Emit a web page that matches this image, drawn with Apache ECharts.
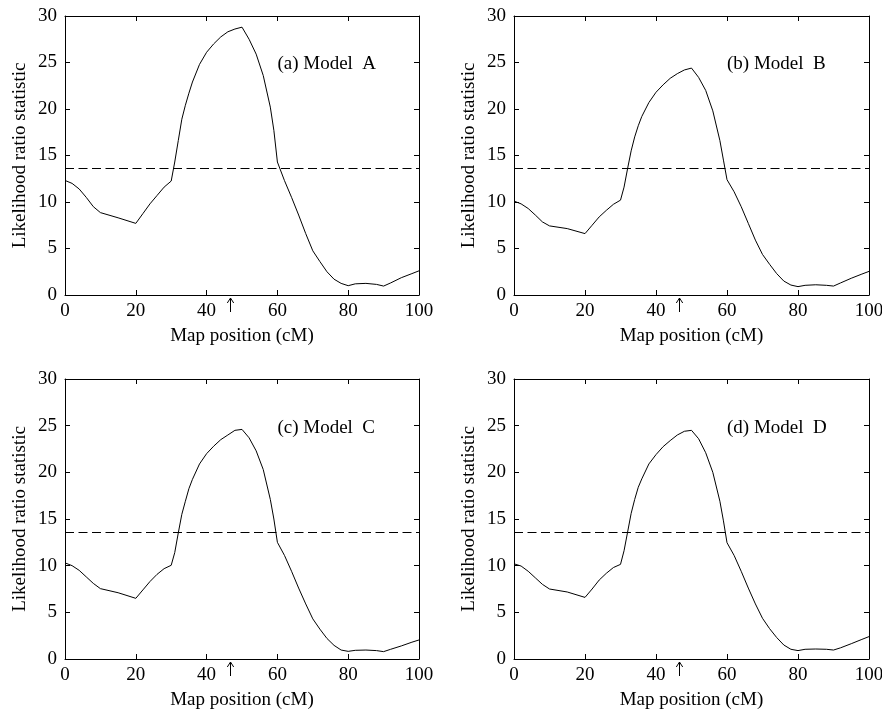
<!DOCTYPE html>
<html>
<head>
<meta charset="utf-8">
<title>Likelihood ratio profiles</title>
<script src="https://cdn.jsdelivr.net/npm/echarts@6/dist/echarts.min.js"></script>
<style>
  html, body { margin: 0; padding: 0; background: #fff; }
  #chart { width: 882px; height: 710px; }
</style>
</head>
<body>
<div id="chart"></div>
<script>
// Map positions (cM) at which the likelihood ratio statistic is evaluated
const positions = [0, 2, 4, 6, 8, 10, 15, 20, 22, 24, 26, 28, 30, 31, 32, 33, 34, 35, 36, 38,
  40, 42, 44, 46, 48, 50, 52, 54, 56, 58, 59, 60, 62, 64, 66, 68, 70, 72, 74, 76,
  78, 80, 82, 85, 88, 90, 92, 95, 98, 100];

// Likelihood ratio statistic for each model
const modelA = [12.32, 12.0, 11.4, 10.5, 9.5, 8.86, 8.3, 7.7, 8.75, 9.8, 10.7, 11.6, 12.25, 14.3, 16.6, 18.9, 20.4, 21.7, 22.9, 24.8,
  26.1, 27.0, 27.75, 28.3, 28.6, 28.8, 27.5, 25.9, 23.6, 20.2, 17.7, 14.3, 12.3, 10.5, 8.6, 6.6, 4.75, 3.6, 2.5, 1.7,
  1.25, 1.0, 1.2, 1.25, 1.14, 0.96, 1.3, 1.86, 2.3, 2.6];
const modelB = [10.1, 9.8, 9.3, 8.6, 7.86, 7.43, 7.14, 6.6, 7.5, 8.4, 9.1, 9.75, 10.2, 11.6, 13.6, 15.5, 17.0, 18.2, 19.2, 20.7,
  21.8, 22.6, 23.3, 23.8, 24.2, 24.4, 23.4, 22.0, 19.8, 16.6, 14.5, 12.4, 11.1, 9.5, 7.7, 5.9, 4.36, 3.3, 2.3, 1.5,
  1.07, 0.9, 1.04, 1.1, 1.04, 0.96, 1.3, 1.8, 2.25, 2.54];
const modelC = [10.3, 10.0, 9.5, 8.8, 8.1, 7.54, 7.1, 6.5, 7.4, 8.3, 9.07, 9.68, 10.04, 11.4, 13.5, 15.5, 16.9, 18.25, 19.25, 20.9,
  22.0, 22.8, 23.5, 24.0, 24.5, 24.6, 23.7, 22.3, 20.3, 17.1, 15.0, 12.5, 11.1, 9.4, 7.6, 5.9, 4.3, 3.2, 2.2, 1.46,
  0.96, 0.82, 0.93, 0.96, 0.9, 0.79, 1.04, 1.4, 1.8, 2.04];
const modelD = [10.2, 9.96, 9.4, 8.7, 8.0, 7.5, 7.18, 6.6, 7.5, 8.46, 9.18, 9.8, 10.14, 11.6, 13.6, 15.6, 17.1, 18.4, 19.3, 20.9,
  21.9, 22.75, 23.4, 24.0, 24.4, 24.5, 23.6, 22.1, 20.0, 16.9, 14.8, 12.46, 11.1, 9.4, 7.6, 5.9, 4.36, 3.25, 2.3, 1.5,
  1.04, 0.9, 1.04, 1.07, 1.04, 0.96, 1.2, 1.64, 2.1, 2.4];

const panelLabels = ['(a) Model  A', '(b) Model  B', '(c) Model  C', '(d) Model  D'];
const threshold = 13.6;       // significance threshold (dashed line)
const qtlPosition = 46.6;     // true QTL position marked by the arrow
const xTitle = 'Map position (cM)';
const yTitle = 'Likelihood ratio statistic';

const models = [modelA, modelB, modelC, modelD];

// Layout of the 2x2 panels
const grids = [
  { left: 65, top: 16, width: 354, height: 279 },
  { left: 514, top: 16, width: 355, height: 279 },
  { left: 65, top: 379, width: 354, height: 280 },
  { left: 514, top: 379, width: 355, height: 280 }
];

const FONT = 'Liberation Serif, "Times New Roman", Times, serif';
const FS = 19;
const BLACK = '#000';

const xAxes = [];
const yAxes = [];
const series = [];

grids.forEach((g, i) => {
  // bottom axis with labels
  xAxes.push({
    type: 'value', gridIndex: i, position: 'bottom', min: 0, max: 100, interval: 20,
    name: xTitle, nameLocation: 'middle', nameGap: 32,
    nameTextStyle: { fontFamily: FONT, fontSize: FS, color: BLACK },
    axisLine: { show: true, onZero: false, lineStyle: { color: BLACK, width: 1 } },
    axisTick: { show: true, inside: true, length: 5, lineStyle: { color: BLACK } },
    axisLabel: { fontFamily: FONT, fontSize: FS, color: BLACK, margin: 7 },
    splitLine: { show: false }
  });
  // top axis: frame and ticks only
  xAxes.push({
    type: 'value', gridIndex: i, position: 'top', min: 0, max: 100, interval: 20,
    axisLine: { show: true, onZero: false, lineStyle: { color: BLACK, width: 1 } },
    axisTick: { show: true, inside: true, length: 5, lineStyle: { color: BLACK } },
    axisLabel: { show: false },
    splitLine: { show: false }
  });
  // left axis with labels
  yAxes.push({
    type: 'value', gridIndex: i, position: 'left', min: 0, max: 30, interval: 5,
    name: yTitle, nameLocation: 'middle', nameGap: 35,
    nameTextStyle: { fontFamily: FONT, fontSize: FS, color: BLACK },
    axisLine: { show: true, onZero: false, lineStyle: { color: BLACK, width: 1 } },
    axisTick: { show: true, inside: true, length: 5, lineStyle: { color: BLACK } },
    axisLabel: { fontFamily: FONT, fontSize: FS, color: BLACK, margin: 8 },
    splitLine: { show: false }
  });
  // right axis: frame and ticks only
  yAxes.push({
    type: 'value', gridIndex: i, position: 'right', min: 0, max: 30, interval: 5,
    axisLine: { show: true, onZero: false, lineStyle: { color: BLACK, width: 1 } },
    axisTick: { show: true, inside: true, length: 5, lineStyle: { color: BLACK } },
    axisLabel: { show: false },
    splitLine: { show: false }
  });

  series.push({
    type: 'line',
    name: panelLabels[i],
    xAxisIndex: 2 * i,
    yAxisIndex: 2 * i,
    data: positions.map((x, k) => [x, models[i][k]]),
    showSymbol: false,
    smooth: false,
    silent: true,
    animation: false,
    lineStyle: { color: BLACK, width: 1 },
    markLine: {
      silent: true,
      symbol: 'none',
      label: { show: false },
      animation: false,
      lineStyle: { color: BLACK, width: 1, type: [9, 4.5] },
      data: [{ yAxis: threshold }]
    }
  });
});

const chart = echarts.init(document.getElementById('chart'), null, { renderer: 'canvas' });
chart.setOption({
  backgroundColor: '#fff',
  animation: false,
  grid: grids.map(g => Object.assign({ containLabel: false, outerBoundsMode: 'none' }, g)),
  xAxis: xAxes,
  yAxis: yAxes,
  series: series
});

// Panel captions and the arrow marking the QTL position, placed in data coordinates
const graphics = [];
grids.forEach((g, i) => {
  const lp = chart.convertToPixel({ gridIndex: i }, [60, 24.8]);
  graphics.push({
    type: 'text', silent: true,
    style: {
      x: lp[0], y: lp[1], text: panelLabels[i],
      font: FS + 'px ' + FONT, fill: BLACK,
      textAlign: 'left', textVerticalAlign: 'middle'
    }
  });
  const ap = chart.convertToPixel({ gridIndex: i }, [qtlPosition, 0]);
  const x = Math.round(ap[0]) + 0.5;
  const y = ap[1];
  graphics.push({
    type: 'line', silent: true,
    shape: { x1: x, y1: y + 3, x2: x, y2: y + 17 },
    style: { stroke: BLACK, lineWidth: 1 }
  });
  graphics.push({
    type: 'polyline', silent: true,
    shape: { points: [[x - 3.2, y + 8], [x, y + 3], [x + 3.2, y + 8]] },
    style: { stroke: BLACK, lineWidth: 1, fill: null }
  });
});
chart.setOption({ graphic: graphics });
</script>
</body>
</html>
